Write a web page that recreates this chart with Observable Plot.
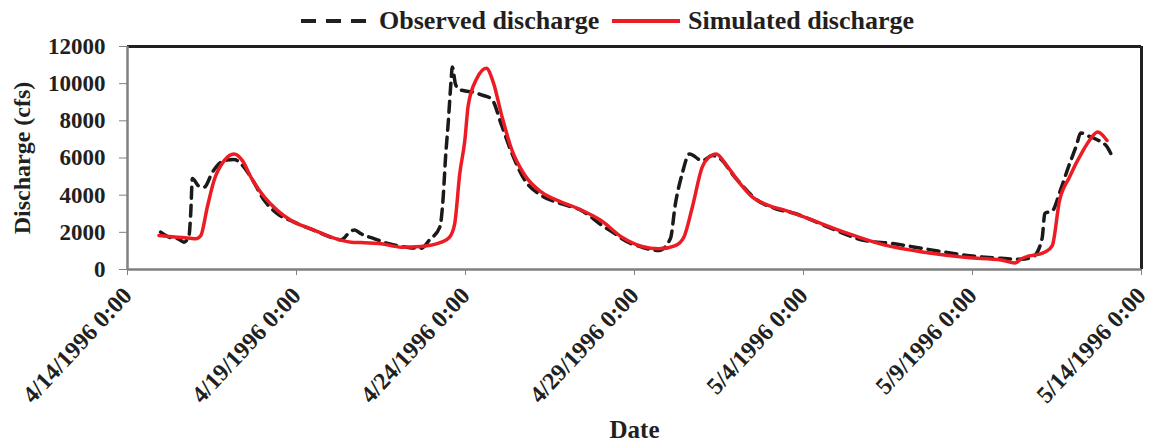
<!DOCTYPE html>
<html><head><meta charset="utf-8">
<script src="https://cdn.jsdelivr.net/npm/d3@7"></script>
<script src="https://cdn.jsdelivr.net/npm/@observablehq/plot@0.6"></script>
<style>
body{margin:0;background:#fff;font-family:"Liberation Serif","Times New Roman",serif;color:#231f20;}
#legend{height:40px;position:relative;font-weight:bold;font-size:26px;}
#legend .item{position:absolute;top:5px;height:32px;display:flex;align-items:center;white-space:nowrap;}
#legend svg{margin-right:6px;}
</style></head>
<body>
<div id="legend"></div>
<div id="chart"></div>
<script>
// Dates: days after 4/14/1996 0:00
const seriesNames = ["Observed discharge", "Simulated discharge"];
const tickDays = [0, 5, 10, 15, 20, 25, 30];
const yTicks = [0, 2000, 4000, 6000, 8000, 10000, 12000];

const obsDay = [0.98,1.23,1.5,1.67,1.82,1.87,1.92,2.1,2.27,2.51,2.86,3.15,3.45,3.65,4.05,4.44,4.93,5.53,6.0,6.32,6.6,6.72,6.91,7.31,7.7,8.1,8.5,8.69,8.94,9.24,9.34,9.41,9.49,9.57,9.61,9.7,9.8,9.93,10.23,10.47,10.77,11.07,11.36,11.76,12.25,12.85,13.44,14.04,14.43,14.63,15.22,15.72,16.06,16.21,16.41,16.63,17.0,17.3,17.6,17.89,18.19,18.58,19.18,19.77,20.6,21.81,22.62,23.63,24.84,25.85,26.45,26.8,27.06,27.14,27.36,27.59,27.85,28.08,28.2,28.4,28.67,28.98,29.13];
const obsQ   = [2010,1740,1650,1470,1830,3000,4900,4500,4430,5230,5860,5920,5500,4970,3710,3000,2550,2100,1750,1600,2050,2130,1920,1650,1400,1240,1150,1150,1600,2280,3890,6040,7920,10080,10900,10000,9700,9630,9540,9400,9180,7750,6310,4790,3980,3530,3170,2370,1920,1650,1200,1020,1650,3530,5150,6220,5860,6130,5860,5150,4520,3800,3270,3000,2380,1560,1400,1100,760,600,550,700,1680,3020,3150,4210,5580,6700,7350,7200,7000,6600,6100];

const simDay = [0.93,1.47,1.85,2.02,2.17,2.36,2.56,2.86,3.15,3.4,3.65,4.05,4.44,4.84,5.43,6.02,6.62,6.91,7.51,8.1,8.69,9.29,9.53,9.68,9.83,9.98,10.08,10.33,10.62,10.82,11.07,11.36,11.76,12.25,12.85,13.34,14.0,14.63,15.22,15.72,16.21,16.46,16.71,17.0,17.2,17.42,17.69,18.09,18.49,18.98,19.48,19.99,21.2,22.41,23.63,24.84,25.85,26.25,26.45,27.16,27.36,27.57,27.86,28.27,28.47,28.7,28.98];
const simQ   = [1830,1740,1680,1650,1830,3350,4790,5860,6220,5860,4970,3890,3170,2640,2190,1740,1470,1450,1380,1200,1240,1470,1740,2460,5150,6940,8820,10260,10830,10080,8290,6490,5060,4160,3620,3270,2650,1740,1240,1110,1290,1740,3350,5500,6040,6220,5690,4700,3890,3440,3170,2840,2010,1310,915,640,510,350,580,950,1280,3660,4940,6400,6970,7400,6940];

const t0 = Date.UTC(1996, 3, 14);
const toDate = d => new Date(t0 + d * 864e5);
const obs = obsDay.map((d, i) => ({date: toDate(d), q: obsQ[i]}));
const sim = simDay.map((d, i) => ({date: toDate(d), q: simQ[i]}));
const fmtDate = d => `${d.getUTCMonth() + 1}/${d.getUTCDate()}/${d.getUTCFullYear()} 0:00`;

const RED = "#ed1c24", INK = "#231f20", GRAY = "#808080";

// Legend
const lg = document.getElementById("legend");
lg.innerHTML = `
<div class="item" style="left:300px"><svg width="73" height="10"><line x1="1" y1="5" x2="71" y2="5" stroke="${INK}" stroke-width="4" stroke-dasharray="15,10"/></svg>${seriesNames[0]}</div>
<div class="item" style="left:611px"><svg width="71" height="10"><line x1="1" y1="5" x2="69" y2="5" stroke="${RED}" stroke-width="4"/></svg>${seriesNames[1]}</div>`;

const chart = Plot.plot({
  width: 1152, height: 405,
  marginTop: 6, marginLeft: 127, marginRight: 11, marginBottom: 176,
  style: {fontFamily: "'Liberation Serif', 'Times New Roman', serif", fontWeight: "bold", fontSize: "22px", color: INK, background: "#fff", overflow: "visible"},
  x: {type: "utc", domain: [toDate(0), toDate(30)]},
  y: {domain: [0, 12000]},
  marks: [
    Plot.ruleY([12000], {stroke: INK, strokeWidth: 3}),
    Plot.ruleX([toDate(30)], {stroke: INK, strokeWidth: 3}),
    Plot.line(obs, {x: "date", y: "q", stroke: "#1a1a1a", strokeWidth: 3.5, strokeDasharray: "11,7", curve: "monotone-x"}),
    Plot.line(sim, {x: "date", y: "q", stroke: RED, strokeWidth: 3.5, curve: "monotone-x"}),
    Plot.ruleY([0], {stroke: GRAY, strokeWidth: 2.5}),
    Plot.ruleX([toDate(0)], {stroke: GRAY, strokeWidth: 2.5}),
    Plot.axisY({ticks: yTicks, tickFormat: d => String(d), tickSize: 8, tickPadding: 14, stroke: GRAY, fill: INK, fontSize: 23, label: null}),
    Plot.axisY({ticks: [], tickSize: 0, fill: INK, fontSize: 24,
      label: "Discharge (cfs)", labelAnchor: "center", labelOffset: 115, labelArrow: "none"}),
    Plot.axisX({ticks: tickDays.map(toDate), tickFormat: fmtDate, tickRotate: -47, tickSize: 6, tickPadding: 16, stroke: GRAY, fill: INK, fontSize: 24, label: null}),
    Plot.axisX({ticks: [], tickSize: 0, fill: INK, fontSize: 25,
      label: "Date", labelAnchor: "center", labelOffset: 168, labelArrow: "none"})
  ]
});
document.getElementById("chart").appendChild(chart);
</script>
</body></html>
